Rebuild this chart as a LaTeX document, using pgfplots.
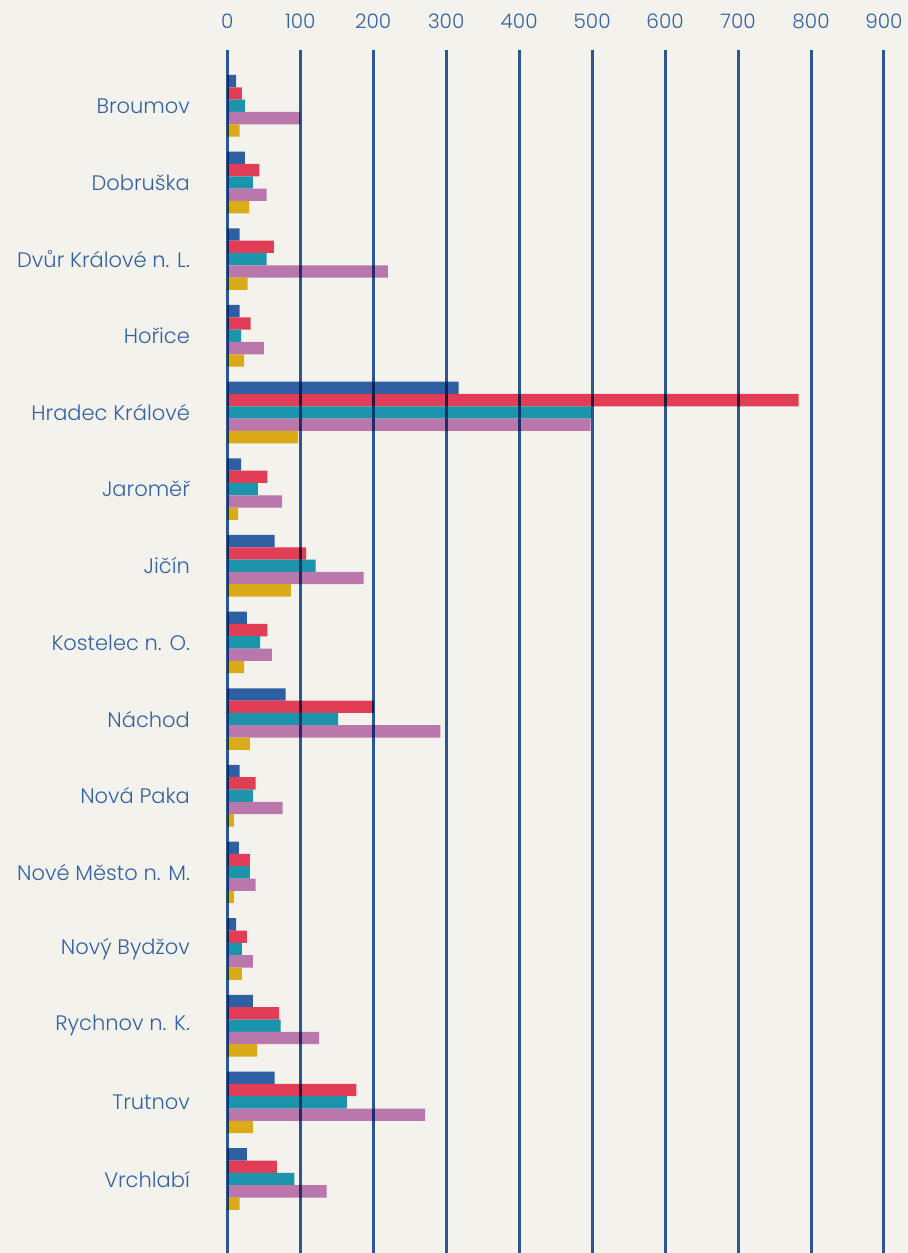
\documentclass[border=0pt]{standalone}
\usepackage{fontspec}
\setmainfont{Poppins}[UprightFont=* Light]
\usepackage{pgfplots}
\usepackage{pgfplotstable}
\pgfplotsset{compat=1.18}
\usetikzlibrary{backgrounds}
\definecolor{bgc}{HTML}{F3F2EC}
\definecolor{gridc}{HTML}{2E5DA0}
\definecolor{txtc}{HTML}{3461A6}
\definecolor{cblue}{HTML}{2F5FA3}
\definecolor{cred}{HTML}{E23D57}
\definecolor{cteal}{HTML}{1B94AC}
\definecolor{cpink}{HTML}{BA77AB}
\definecolor{cyel}{HTML}{DBAA18}
\pgfplotstableread[col sep=comma]{
name,blue,red,teal,pink,yellow
Broumov,12,20,24,100,17
Dobruska,24,44,35,54,30
Dvur,17,64,54,220,28
Horice,17,32,19,50,23
Hradec,317,783,499,498,97
Jaromer,19,55,42,75,15
Jicin,65,108,121,187,87
Kostelec,27,55,45,61,23
Nachod,80,201,152,292,31
NovaPaka,17,39,35,76,9
NoveMesto,16,31,31,39,9
NovyBydzov,12,27,20,35,20
Rychnov,35,71,73,126,41
Trutnov,65,177,164,271,35
Vrchlabi,27,68,92,136,17
}\datatable
\begin{document}
\begin{tikzpicture}
\begin{axis}[
  scale only axis, width=328.35pt, height=601.5pt,
  xmin=0, xmax=900, ymin=-0.728, ymax=14.965, y dir=reverse,
  axis on top,
  axis line style={draw=none},
  xtick={0,100,...,900},
  xticklabel pos=upper,
  major tick length=0pt,
  xmajorgrids, grid style={gridc, line width=1.5pt, blend mode=multiply},
  ytick={0,...,14},
  yticklabels={Broumov,Dobruška,Dvůr Králové n. L.,Hořice,Hradec Králové,Jaroměř,Jičín,Kostelec n. O.,Náchod,Nová Paka,Nové Město n. M.,Nový Bydžov,Rychnov n. K.,Trutnov,Vrchlabí},
  yticklabel style={font=\fontsize{10.5}{12}\selectfont, text=txtc, anchor=east, inner sep=0pt, xshift=-18.5pt},
  xticklabel style={font=\fontsize{10}{12}\selectfont, text=txtc, anchor=base, inner sep=0pt, yshift=10.5pt},
  /pgf/number format/assume math mode=true,
  xbar, bar width=6.165pt, bar shift=0pt,
  every axis plot/.append style={draw=none},
]
\coordinate (tl) at (axis cs:-311.5,-1.380);
\coordinate (br) at (axis cs:932.8,14.965);
\addplot[fill=cblue] table[x=blue, y expr=\coordindex-0.3216] {\datatable};
\addplot[fill=cred] table[x=red, y expr=\coordindex-0.1608] {\datatable};
\addplot[fill=cteal] table[x=teal, y expr=\coordindex] {\datatable};
\addplot[fill=cpink] table[x=pink, y expr=\coordindex+0.1608] {\datatable};
\addplot[fill=cyel] table[x=yellow, y expr=\coordindex+0.3216] {\datatable};
\end{axis}
\begin{scope}[on background layer]
\fill[bgc] (tl) rectangle (br);
\end{scope}
\pgfresetboundingbox
\path[use as bounding box] (tl) rectangle (br);
\end{tikzpicture}
\end{document}
